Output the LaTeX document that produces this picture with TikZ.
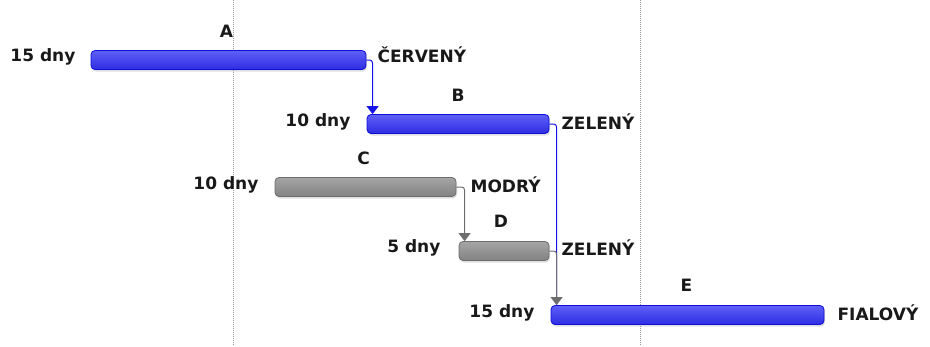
\documentclass[tikz,border=0pt]{standalone}
\usepackage{fontspec}
\setmainfont{DejaVu Sans}
\usetikzlibrary{arrows.meta,shadows}
\definecolor{bTop}{RGB}{95,95,250}
\definecolor{bMid}{RGB}{160,160,255}
\definecolor{bBot}{RGB}{45,45,225}
\definecolor{bEdge}{RGB}{15,15,215}
\definecolor{gTop}{RGB}{165,165,165}
\definecolor{gMid}{RGB}{210,210,210}
\definecolor{gBot}{RGB}{130,130,130}
\definecolor{gEdge}{RGB}{110,110,110}
\definecolor{blueLine}{RGB}{20,20,230}
\definecolor{grayLine}{RGB}{110,110,110}
\begin{document}
\begin{tikzpicture}[x=1pt,y=-1pt,
  txt/.style={font=\fontsize{17}{19}\selectfont\bfseries, inner sep=0pt, text=black!90},
  barbase/.style={rectangle, rounded corners=4pt, minimum height=19pt, inner sep=0pt, line width=0.8pt,
     drop shadow={shadow xshift=1pt, shadow yshift=-2pt, opacity=0.25}},
  bluebar/.style={barbase, draw=bEdge, top color=bTop, middle color=bMid, bottom color=bBot},
  graybar/.style={barbase, draw=gEdge, top color=gTop, middle color=gMid, bottom color=gBot},
  gridline/.style={gray!80, line width=0.6pt, dash pattern=on 1pt off 1pt},
  bconn/.style={blueLine, line width=1pt, rounded corners=3pt},
  gconn/.style={grayLine, line width=1pt, rounded corners=3pt},
  tip/.style={-{Triangle[width=12pt,length=8pt]}}
]
\useasboundingbox (0,0) rectangle (930,346);
\coordinate (g1t) at (233,0); \coordinate (g1b) at (233,346);
\coordinate (g2t) at (640,0); \coordinate (g2b) at (640,346);
\draw[gridline] (g1t) -- (g1b);
\draw[gridline] (g2t) -- (g2b);

\node[bluebar, minimum width=275pt] (A) at (228.5,60) {};
\node[bluebar, minimum width=182pt] (B) at (458,124) {};
\node[graybar, minimum width=181pt] (C) at (365.5,187) {};
\node[graybar, minimum width=90pt]  (D) at (504,251) {};
\node[bluebar, minimum width=273pt] (E) at (687.5,315) {};

% letters
\node[txt] (lA) at ([xshift=-2pt,yshift=29pt]A.center) {A};
\node[txt] (lB) at ([yshift=29pt]B.center) {B};
\node[txt] (lC) at ([xshift=-2pt,yshift=29pt]C.center) {C};
\node[txt] (lD) at ([xshift=-3pt,yshift=30pt]D.center) {D};
\node[txt] (lE) at ([xshift=-1pt,yshift=30pt]E.center) {E};

% durations
\node[txt, anchor=east] (dA) at ([xshift=-15pt,yshift=3pt]A.west) {15 dny};
\node[txt, anchor=east] (dB) at ([xshift=-16pt,yshift=2pt]B.west) {10 dny};
\node[txt, anchor=east] (dC) at ([xshift=-16pt,yshift=2pt]C.west) {10 dny};
\node[txt, anchor=east] (dD) at ([xshift=-18pt,yshift=3pt]D.west) {5 dny};
\node[txt, anchor=east] (dE) at ([xshift=-16pt,yshift=2pt]E.west) {15 dny};

% resources
\node[txt, anchor=west] (rA) at ([xshift=11pt,yshift=5pt]A.east) {ČERVENÝ};
\node[txt, anchor=west] (rB) at ([xshift=12pt,yshift=2pt]B.east) {ZELENÝ};
\node[txt, anchor=west] (rC) at ([xshift=14pt,yshift=2pt]C.east) {MODRÝ};
\node[txt, anchor=west] (rD) at ([xshift=12pt,yshift=3pt]D.east) {ZELENÝ};
\node[txt, anchor=west] (rE) at ([xshift=13pt,yshift=2pt]E.east) {FIALOVÝ};

% connectors
\draw[bconn, tip] (A.east) -| ([xshift=6pt]B.north west);
\draw[bconn] (B.east) -| ([xshift=6pt]E.north west);
\draw[gconn, tip] (C.east) -| ([xshift=6pt]D.north west);
\draw[gconn, tip] (D.east) -| ([xshift=6pt]E.north west);
\end{tikzpicture}
\end{document}
